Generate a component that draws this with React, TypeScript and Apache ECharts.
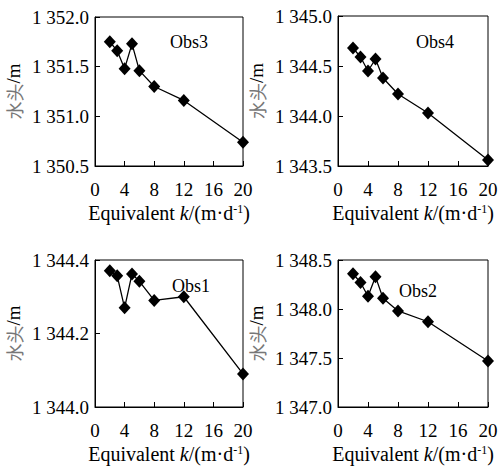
import React, { useEffect, useRef } from "react";
import * as echarts from "echarts";

const kValues = [2, 3, 4, 5, 6, 8, 12, 20];
const obs3 = [1351.75, 1351.66, 1351.48, 1351.73, 1351.46, 1351.3, 1351.16, 1350.74];
const obs4 = [1344.68, 1344.59, 1344.45, 1344.57, 1344.38, 1344.22, 1344.03, 1343.56];
const obs1 = [1344.371, 1344.357, 1344.27, 1344.362, 1344.342, 1344.29, 1344.3, 1344.09];
const obs2 = [1348.36, 1348.27, 1348.13, 1348.33, 1348.11, 1347.98, 1347.87, 1347.47];
const panelNames = ["Obs3", "Obs4", "Obs1", "Obs2"];
const panelData = [obs3, obs4, obs1, obs2];
const yMins = [1350.5, 1343.5, 1344.0, 1347.0];
const yMaxs = [1352.0, 1345.0, 1344.4, 1348.5];
const yIntervals = [0.5, 0.5, 0.2, 0.5];
const xTicks = { min: 0, max: 20, interval: 4 };

const FONT = "Liberation Serif";

const grids = [
  { left: 95, top: 17, width: 148, height: 149 },
  { left: 338, top: 16, width: 150, height: 150 },
  { left: 95, top: 260, width: 148, height: 147 },
  { left: 338, top: 260, width: 150, height: 147 },
];
const labelPos = [
  { x: 170, y: 42 },
  { x: 416, y: 42 },
  { x: 172, y: 286 },
  { x: 399, y: 291 },
];

function fmtY(v: number) {
  const s = v.toFixed(1);
  return s.slice(0, s.length - 5) + " " + s.slice(-5);
}

export default function App() {
  const ref = useRef<HTMLDivElement>(null);
  useEffect(() => {
    document.body.style.margin = "0";
    if (!ref.current) return;
    const chart = echarts.init(ref.current, null, { renderer: "svg" });
    const option: any = {
      animation: false,
      backgroundColor: "#fff",
      grid: grids.map((g) => ({
        ...g,
        show: true,
        borderColor: "#000",
        borderWidth: 1,
        backgroundColor: "transparent",
      })),
      xAxis: grids.map((_, i) => ({
        type: "value",
        gridIndex: i,
        min: xTicks.min,
        max: xTicks.max,
        interval: xTicks.interval,
        axisLine: { show: true, lineStyle: { color: "#000", width: 1 } },
        axisTick: { show: true, inside: true, length: 5, lineStyle: { color: "#000" } },
        splitLine: { show: false },
        axisLabel: { color: "#000", fontFamily: FONT, fontSize: 19, margin: 14 },
        name: "Equivalent {i|k}/(m·d{sup|-1})",
        nameLocation: "middle",
        nameGap: 37,
        nameTextStyle: {
          color: "#000",
          fontFamily: FONT,
          fontSize: 20,
          rich: {
            i: { fontStyle: "italic", fontFamily: FONT, fontSize: 20, color: "#000" },
            sup: { fontFamily: FONT, fontSize: 12, color: "#000", padding: [0, 0, 8, 0] },
          },
        },
      })),
      yAxis: grids.map((_, i) => ({
        type: "value",
        gridIndex: i,
        min: yMins[i],
        max: yMaxs[i],
        interval: yIntervals[i],
        axisLine: { show: true, lineStyle: { color: "#000", width: 1 } },
        axisTick: { show: true, inside: true, length: 5, lineStyle: { color: "#000" } },
        splitLine: { show: false },
        axisLabel: { color: "#000", fontFamily: FONT, fontSize: 19, margin: 6, formatter: fmtY },
        name: "{c|水头}{m|/m}",
        nameLocation: "middle",
        nameRotate: 90,
        nameGap: 72,
        nameTextStyle: {
          color: "#000",
          fontFamily: FONT,
          fontSize: 19,
          rich: {
            c: { fontFamily: "Noto Sans CJK SC", color: "#777", fontSize: 18 },
            m: { fontFamily: FONT, color: "#000", fontSize: 19 },
          },
        },
      })),
      series: panelData.map((d, i) => ({
        type: "line",
        xAxisIndex: i,
        yAxisIndex: i,
        data: kValues.map((k, j) => [k, d[j]]),
        symbol: "diamond",
        symbolSize: [12, 13],
        lineStyle: { color: "#000", width: 1.3 },
        itemStyle: { color: "#000" },
      })),
      graphic: panelNames.map((n, i) => ({
        type: "text",
        x: labelPos[i].x,
        y: labelPos[i].y,
        style: { text: n, fontFamily: FONT, fontSize: 18, fill: "#000", verticalAlign: "middle" },
      })),
    };
    chart.setOption(option);
    return () => chart.dispose();
  }, []);
  return <div ref={ref} style={{ width: 502, height: 469 }} />;
}
